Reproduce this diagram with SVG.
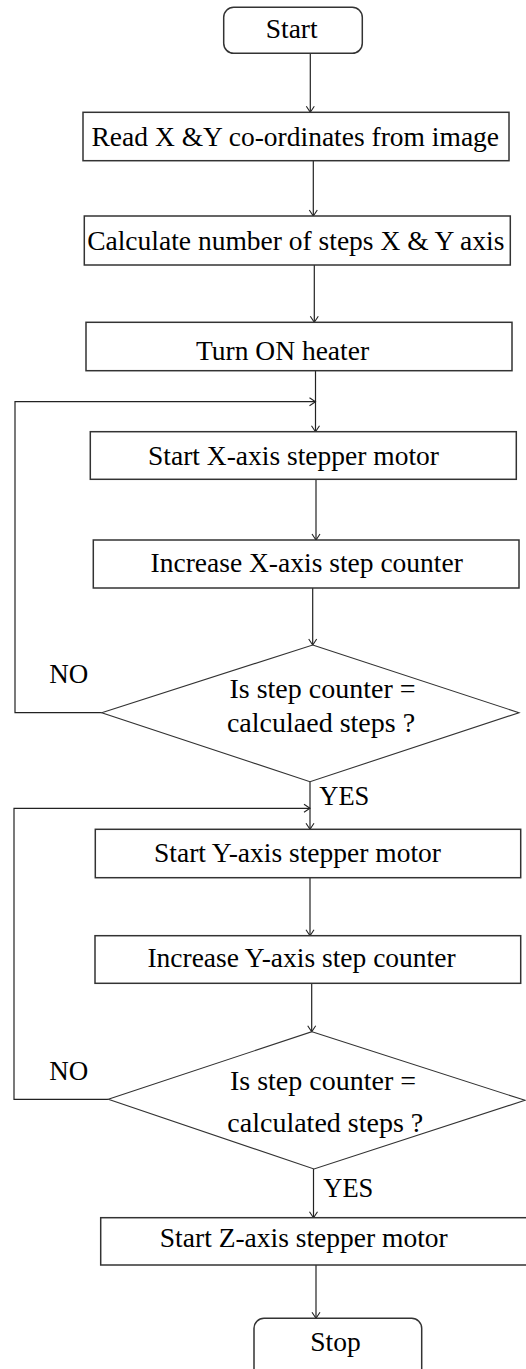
<svg xmlns="http://www.w3.org/2000/svg" width="526" height="1369" viewBox="0 0 526 1369">
<style>
.b{fill:#fff;stroke:#333;stroke-width:1.5}
.d{fill:#fff;stroke:#333;stroke-width:1.1}
.c{fill:none;stroke:#222;stroke-width:1.2}
</style>
<defs>
<marker id="a" markerUnits="userSpaceOnUse" markerWidth="12" markerHeight="12" viewBox="-8 -6 10 12" refX="0" refY="0" orient="auto">
<path d="M-6,-4 L0,0 L-6,4" fill="none" stroke="#222" stroke-width="1.1"/>
</marker>
</defs>
<rect width="526" height="1369" fill="#fff"/>
<g id="connectors">
<path class="c" d="M310.3,53.3 V112.3" marker-end="url(#a)"/>
<path class="c" d="M313.3,160.7 V216" marker-end="url(#a)"/>
<path class="c" d="M314.3,265 V322.3" marker-end="url(#a)"/>
<path class="c" d="M315.5,370.7 V431.7" marker-end="url(#a)"/>
<path class="c" d="M101.7,712.7 H15 V401.7 H315.5" marker-end="url(#a)"/>
<path class="c" d="M316,479.3 V540" marker-end="url(#a)"/>
<path class="c" d="M312.7,588 V645" marker-end="url(#a)"/>
<path class="c" d="M310,781.7 V829.3" marker-end="url(#a)"/>
<path class="c" d="M108.3,1099.3 H14 V808.3 H310" marker-end="url(#a)"/>
<path class="c" d="M310,877.7 V935.7" marker-end="url(#a)"/>
<path class="c" d="M311.7,983.3 V1031.7" marker-end="url(#a)"/>
<path class="c" d="M313.5,1169 V1217.7" marker-end="url(#a)"/>
<path class="c" d="M316,1265 V1318.3" marker-end="url(#a)"/>
</g>
<g id="start">
<rect class="b" x="223.7" y="7.3" width="138.6" height="46" rx="10"/>
<text x="291.7" y="38" font-family="Liberation Serif" font-size="27.5" text-anchor="middle">Start</text>
</g>
<g id="read">
<rect class="b" x="83" y="112.3" width="426" height="48.4"/>
<text x="295.3" y="146" font-family="Liberation Serif" font-size="27.5" text-anchor="middle">Read X &amp;Y co-ordinates from image</text>
</g>
<g id="calc">
<rect class="b" x="84.3" y="216" width="426" height="49"/>
<text x="295.8" y="250" font-family="Liberation Serif" font-size="27.5" text-anchor="middle">Calculate number of steps X &amp; Y axis</text>
</g>
<g id="heater">
<rect class="b" x="86" y="322.3" width="426" height="48.4"/>
<text x="282.5" y="360" font-family="Liberation Serif" font-size="27.5" text-anchor="middle">Turn ON heater</text>
</g>
<g id="startx">
<rect class="b" x="90.3" y="431.7" width="426" height="47.6"/>
<text x="293.5" y="465" font-family="Liberation Serif" font-size="27.5" text-anchor="middle">Start X-axis stepper motor</text>
</g>
<g id="incx">
<rect class="b" x="93.3" y="540" width="425.7" height="48"/>
<text x="306.7" y="571.7" font-family="Liberation Serif" font-size="27.5" text-anchor="middle">Increase X-axis step counter</text>
</g>
<g id="decx">
<polygon class="d" points="312.7,645 519,712.7 310,781.7 101.7,712.7"/>
<text x="322.5" y="698.3" font-family="Liberation Serif" font-size="28" text-anchor="middle">Is step counter =</text>
<text x="321" y="731.7" font-family="Liberation Serif" font-size="28" text-anchor="middle">calculaed steps ?</text>
<text x="49.3" y="682.7" font-family="Liberation Serif" font-size="27">NO</text>
<text x="319.3" y="805" font-family="Liberation Serif" font-size="26.5">YES</text>
</g>
<g id="starty">
<rect class="b" x="95.3" y="829.3" width="425.4" height="48.4"/>
<text x="297.5" y="861.7" font-family="Liberation Serif" font-size="27.5" text-anchor="middle">Start Y-axis stepper motor</text>
</g>
<g id="incy">
<rect class="b" x="95" y="935.7" width="425.7" height="47.6"/>
<text x="301.5" y="967.3" font-family="Liberation Serif" font-size="27.5" text-anchor="middle">Increase Y-axis step counter</text>
</g>
<g id="decy">
<polygon class="d" points="312,1031.7 525,1100.3 314,1169 108.3,1099.3"/>
<text x="323" y="1090" font-family="Liberation Serif" font-size="28" text-anchor="middle">Is step counter =</text>
<text x="325.3" y="1131.7" font-family="Liberation Serif" font-size="28" text-anchor="middle">calculated steps ?</text>
<text x="49.3" y="1080" font-family="Liberation Serif" font-size="27">NO</text>
<text x="323.3" y="1196.7" font-family="Liberation Serif" font-size="26.5">YES</text>
</g>
<g id="startz">
<rect class="b" x="100.7" y="1217.7" width="430" height="47.3"/>
<text x="303.8" y="1247.3" font-family="Liberation Serif" font-size="27.5" text-anchor="middle">Start Z-axis stepper motor</text>
</g>
<g id="stop">
<rect class="b" x="254" y="1318.3" width="167.7" height="62" rx="10"/>
<text x="335.5" y="1350.7" font-family="Liberation Serif" font-size="27.5" text-anchor="middle">Stop</text>
</g>
</svg>
